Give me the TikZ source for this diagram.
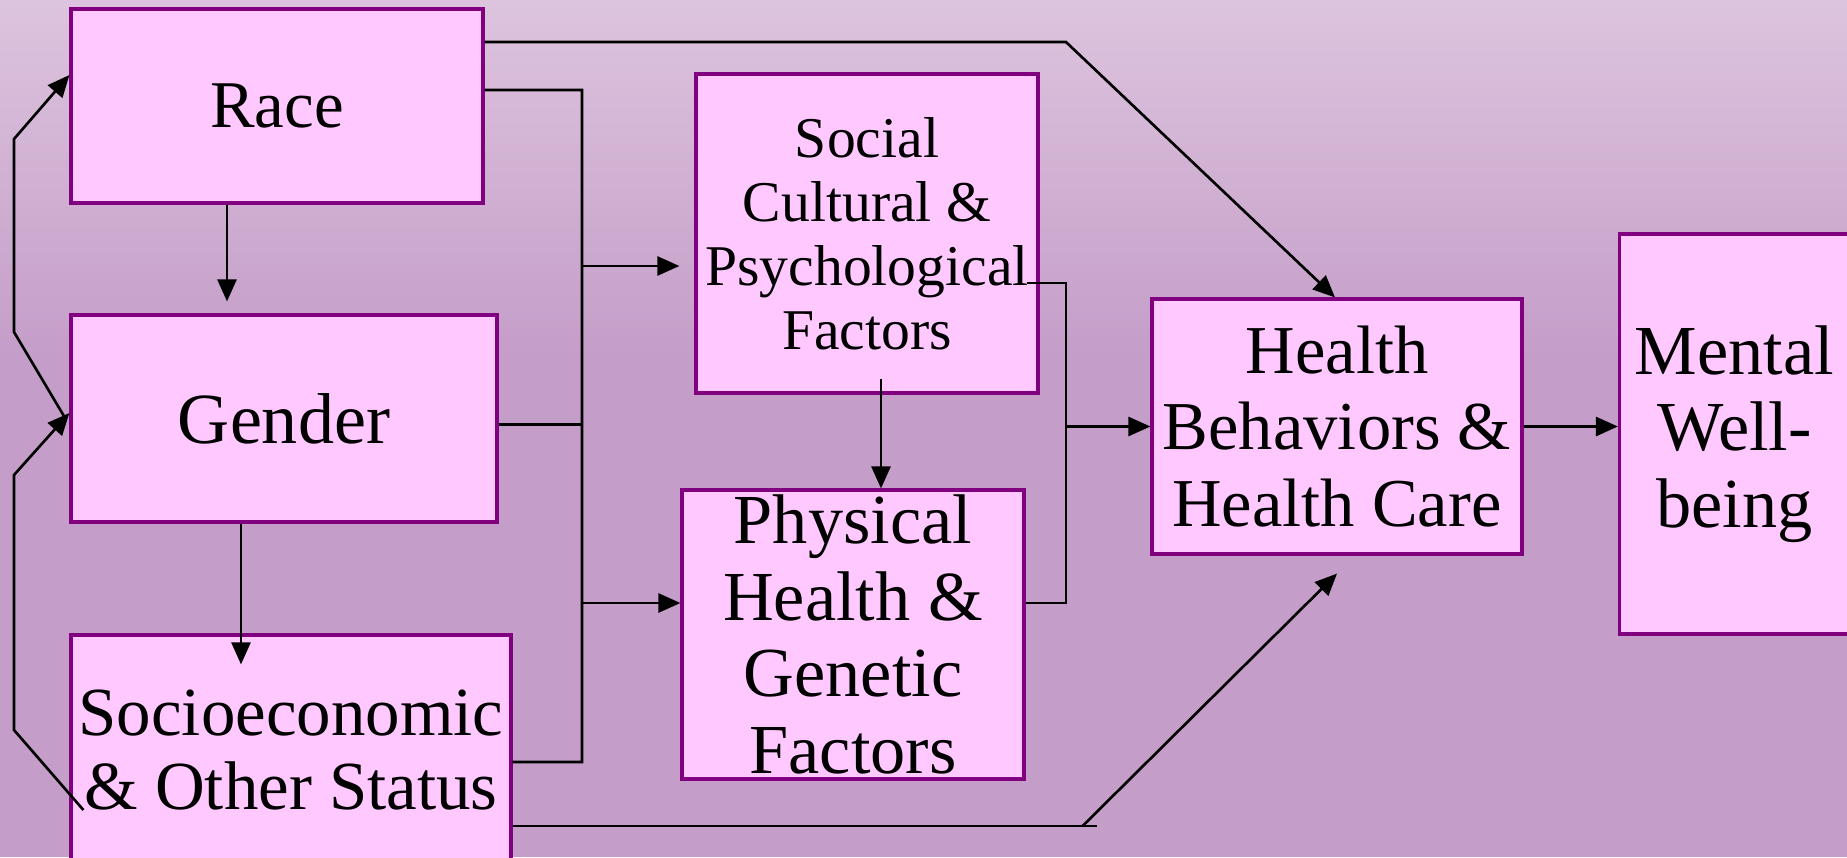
\documentclass[tikz,border=0pt]{standalone}
\usepackage{fontspec}
\setmainfont{Liberation Serif}
\usepackage{tikz}
\usetikzlibrary{arrows.meta}

\definecolor{boxfill}{RGB}{255,200,255}
\definecolor{boxedge}{RGB}{128,0,128}
\definecolor{bgtop}{RGB}{221,196,222}
\definecolor{bgbottom}{RGB}{196,157,200}

\begin{document}
\begin{tikzpicture}[
    factor/.style={draw=boxedge, line width=0.9pt, fill=boxfill, align=center, inner sep=0pt},
    big/.style={font=\fontsize{20}{21.8}\selectfont},
    link/.style={line width=0.75pt},
    arrow/.style={link, -{Triangle[length=2.2mm,width=1.9mm]}}
  ]
    \path[use as bounding box, clip] (0,0) rectangle (18.47,-8.57);
    \fill[bgbottom] (0,0) rectangle (18.47,-8.57);
    \shade[top color=bgtop, bottom color=bgbottom] (0,0) rectangle (18.47,-3.6);

    \node[factor, font=\fontsize{19}{21.8}\selectfont, minimum width=4.12cm, minimum height=1.94cm] (race) at (2.77,-1.06) {Race};
    \node[factor, font=\fontsize{20.5}{21.8}\selectfont, minimum width=4.26cm, minimum height=2.07cm] (gender) at (2.84,-4.185) {Gender};
    \node[factor, font=\fontsize{19.6}{20.8}\selectfont, minimum width=4.40cm, minimum height=2.30cm] (status) at (2.91,-7.50) {Socioeconomic\\\& Other Status};
    \node[factor, font=\fontsize{16.4}{18.2}\selectfont, minimum width=3.42cm, minimum height=3.19cm] (social) at (8.67,-2.335) {Social\\Cultural \&\\Psychological\\Factors};
    \node[factor, big, minimum width=3.42cm, minimum height=2.89cm] (physical) at (8.53,-6.345) {Physical\\Health \&\\Genetic\\Factors};
    \node[factor, font=\fontsize{19.5}{21.8}\selectfont, minimum width=3.70cm, minimum height=2.55cm] (health) at (13.37,-4.265) {Health\\Behaviors \&\\Health Care};
    \node[factor, big, minimum width=2.30cm, minimum height=4.00cm] (mental) at (17.345,-4.34) {Mental\\Well-\\being};

    \coordinate (busTop) at (5.82,-0.90);
    \coordinate (hbus) at (10.66,-4.265);
    \coordinate (rbend) at (10.66,-0.42);

    % left column into the bus
    \draw[link] ([yshift=1.6mm]race.east) -- (busTop) -- (busTop |- 0,-7.62) -- ([yshift=-1.2mm]status.east);
    \draw[link] ([yshift=-0.6mm]gender.east) coordinate (g) -- (g -| busTop);
    \path ([xshift=-1.5mm,yshift=-3.25mm]social.west) coordinate (s-in);
    \path ([yshift=3.15mm]physical.west) coordinate (p-in);
    \draw[arrow] (s-in -| busTop) -- (s-in);
    \draw[arrow] (p-in -| busTop) -- (p-in);

    \draw[arrow, shorten >=1.2mm] ([xshift=-5mm]race.south) -- ([xshift=-5mm]race.south |- gender.north);
    \draw[arrow, shorten >=-3.1mm] ([xshift=-4.3mm]gender.south) -- ([xshift=-4.3mm]gender.south |- status.north);
    \draw[arrow] ([xshift=1.4mm,yshift=1.6mm]social.south) coordinate (sp) -- (sp |- physical.north);

    % middle column into health
    \path ([yshift=3.15mm]physical.east) coordinate (p-out);
    \draw[link] ([xshift=-1.3mm,yshift=-4.95mm]social.east) coordinate (se) -- (se -| hbus) -- (p-out -| hbus) -- (p-out);
    \draw[arrow] (hbus |- health.west) -- (health.west);
    \draw[arrow] (health.east) -- (health.east -| mental.west);

    \draw[arrow] ([yshift=6.4mm]race.east) -- (rbend) -- ([xshift=-0.2mm]health.north);
    \draw[link] ([yshift=-7.6mm]status.east) coordinate (sb) -- ++(5.84,0);
    \draw[arrow] (sb) ++(5.70,0) -- ([yshift=-1.8mm]health.south);

    % loops on the left
    \draw[arrow] ([xshift=1.4mm,yshift=-6mm]status.west) -- (0.14,-7.30) -- (0.14,-4.75) -- ([yshift=0.55mm]gender.west);
    \draw[arrow] ([xshift=-0.4mm]gender.west) -- (0.14,-3.32) -- (0.14,-1.39) -- ([yshift=3.1mm]race.west);
  \end{tikzpicture}
\end{document}
